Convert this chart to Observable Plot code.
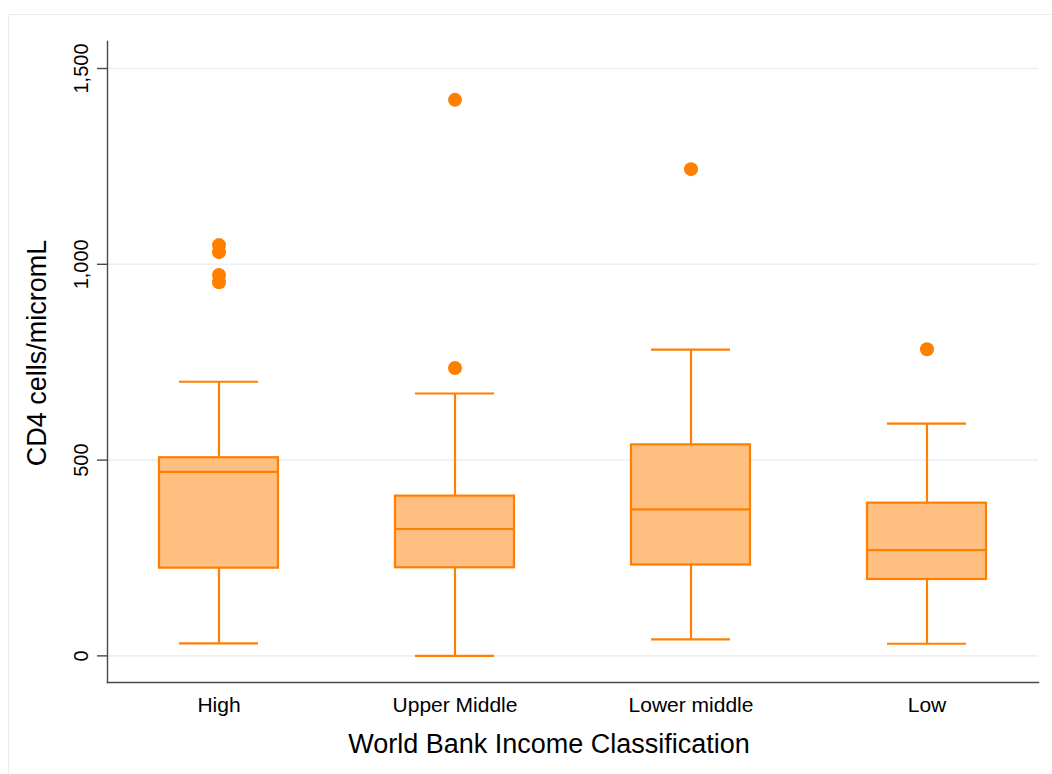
<!DOCTYPE html>
<html>
<head>
<meta charset="utf-8">
<script src="https://cdn.jsdelivr.net/npm/d3@7"></script>
<script src="https://cdn.jsdelivr.net/npm/@observablehq/plot@0.6"></script>
<style>
  html, body { margin: 0; padding: 0; background: #ffffff; }
  #wrap { position: relative; width: 1052px; height: 774px; overflow: hidden; }
  #graphregion { position: absolute; left: 8px; top: 14px; width: 1100px; height: 800px;
    border-left: 1.5px solid #e6eef1; border-top: 1.5px solid #e6eef1; }
  #chart { position: absolute; left: 0; top: 0; }
</style>
</head>
<body>
<div id="wrap"><div id="graphregion"></div><div id="chart"></div></div>
<script>
// Categories (World Bank income classification)
const categories = ["High", "Upper Middle", "Lower middle", "Low"];
// Box plot summaries (CD4 cells/micromL)
const whiskerLow  = [32, 0, 42, 31];
const q1          = [224, 225, 232, 195];
const medians     = [470, 324, 374, 270];
const q3          = [506, 408, 539, 390];
const whiskerHigh = [700, 670, 782, 593];
// Outside values
const outlierCats   = ["High", "High", "High", "High", "Upper Middle", "Upper Middle", "Lower middle", "Low"];
const outlierValues = [1049, 1031, 973, 954, 1420, 735, 1243, 783];
// Axis ticks
const yTicks = [0, 500, 1000, 1500];
const yDomain = [-68, 1569];

const boxes = categories.map((c, i) => ({
  cat: c, lo: whiskerLow[i], q1: q1[i], med: medians[i], q3: q3[i], hi: whiskerHigh[i]
}));
const outliers = outlierCats.map((c, i) => ({cat: c, value: outlierValues[i]}));

const stroke = "#ff7f00";
const fill = "#ffbf80";
const axisColor = "#4a4a4a";

const chart = Plot.plot({
  width: 1052,
  height: 774,
  marginLeft: 107,
  marginRight: 14,
  marginTop: 41,
  marginBottom: 92,
  style: {fontFamily: "'Liberation Sans', Arial, Helvetica, sans-serif", fontSize: "20px", background: "transparent", color: "#000"},
  x: {type: "band", domain: categories, paddingInner: 0.495, paddingOuter: 0.214},
  y: {domain: yDomain},
  marks: [
    Plot.ruleY(yTicks, {stroke: "#eaf1f4", strokeWidth: 1.6}),
    Plot.frame({anchor: "left", stroke: axisColor, strokeWidth: 1.4}),
    Plot.frame({anchor: "bottom", stroke: axisColor, strokeWidth: 1.4}),
    Plot.axisY({ticks: yTicks, tickSize: 10, tickFormat: d3.format(","), tickRotate: -90, tickPadding: 10, label: null, stroke: axisColor, strokeWidth: 1.4, fontSize: 20}),
    Plot.axisX({tickSize: 0, tickPadding: 15, label: null, fontSize: 21}),
    Plot.ruleX(boxes, {x: "cat", y1: "lo", y2: "q1", stroke, strokeWidth: 2.2}),
    Plot.ruleX(boxes, {x: "cat", y1: "q3", y2: "hi", stroke, strokeWidth: 2.2}),
    Plot.tickY(boxes, {x: "cat", y: "lo", stroke, strokeWidth: 2.2, inset: 20}),
    Plot.tickY(boxes, {x: "cat", y: "hi", stroke, strokeWidth: 2.2, inset: 20}),
    Plot.barY(boxes, {x: "cat", y1: "q1", y2: "q3", fill, stroke, strokeWidth: 2.2}),
    Plot.tickY(boxes, {x: "cat", y: "med", stroke, strokeWidth: 2.2}),
    Plot.dot(outliers, {x: "cat", y: "value", r: 7, fill: stroke, stroke: "none"}),
    Plot.text(["CD4 cells/micromL"], {frameAnchor: "left", textAnchor: "middle", rotate: -90, dx: -70, dy: -9, fontSize: 27, fill: "#000"}),
    Plot.text(["World Bank Income Classification"], {frameAnchor: "bottom", textAnchor: "middle", dx: -24, dy: 70, fontSize: 27, fill: "#000"})
  ]
});
document.getElementById("chart").appendChild(chart);
</script>
</body>
</html>
